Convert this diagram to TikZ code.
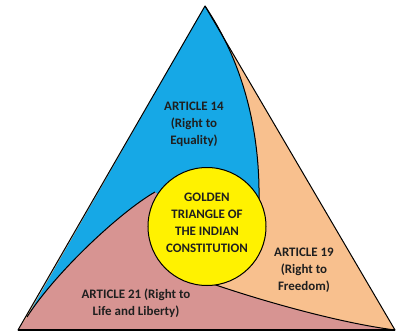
\documentclass[tikz,border=0pt]{standalone}
\usepackage{fontspec}
\setmainfont{Carlito}
\begin{document}
\begin{tikzpicture}[x=1bp,y=-1bp,
  edge/.style={draw=black,line width=1bp,line join=round},
  label/.style={align=center,font=\bfseries\fontsize{13}{17}\selectfont,text=black!88,inner sep=0pt}]
\definecolor{eqblue}{HTML}{16A8E6}
\definecolor{frpeach}{HTML}{F8C08E}
\definecolor{lifepink}{HTML}{D79492}
\definecolor{goldyel}{HTML}{FFF200}
\useasboundingbox (0,0) rectangle (401,333);
% corners of the triangle and points where the sectors meet the circle
\coordinate (A) at (205,6);
\coordinate (BL) at (18,330);
\coordinate (BR) at (395,330);
\coordinate (O) at (207,226.5);
\coordinate (P1) at (259,200);
\coordinate (P2) at (155,192);
\coordinate (P3) at (210,283);
\coordinate (L) at (27,317);
% Article 19 sector: whole triangle as base
\fill[frpeach] (A) -- (BL) -- (BR) -- cycle;
% Article 21 sector
\fill[lifepink] (BL) -- (BR) .. controls (340,323) and (262,301) .. (P3) -- (O) -- (P2)
  .. controls (120,212) and (55,273) .. (L) -- cycle;
% Article 14 sector
\fill[eqblue] (A) -- (L) .. controls (55,273) and (120,212) .. (P2) -- (O) -- (P1)
  .. controls (260,135) and (245,65) .. (A) -- cycle;
% sector borders
\draw[edge] (A) .. controls (245,65) and (260,135) .. (P1);
\draw[edge] (P2) .. controls (120,212) and (55,273) .. (L);
\draw[edge] (P3) .. controls (262,301) and (340,323) .. (BR);
\draw[edge] (A) -- (BL) -- (BR) -- cycle;
\draw[black,line width=1.6bp] (BL) -- (BR);
% central circle
\node[circle,draw=black,line width=1bp,fill=goldyel,minimum size=118bp,inner sep=0pt] (gold) at (O) {};
\node[label] (t0) at (207,222.5) {GOLDEN\\TRIANGLE OF\\THE INDIAN\\CONSTITUTION};
\node[label] (t14) at (194,124.5) {ARTICLE 14\\(Right to\\Equality)};
\node[label] (t19) at (304,270) {ARTICLE 19\\(Right to\\Freedom)};
\node[label] (t21) at (136,303.5) {ARTICLE 21 (Right to\\Life and Liberty)};
\end{tikzpicture}
\end{document}
